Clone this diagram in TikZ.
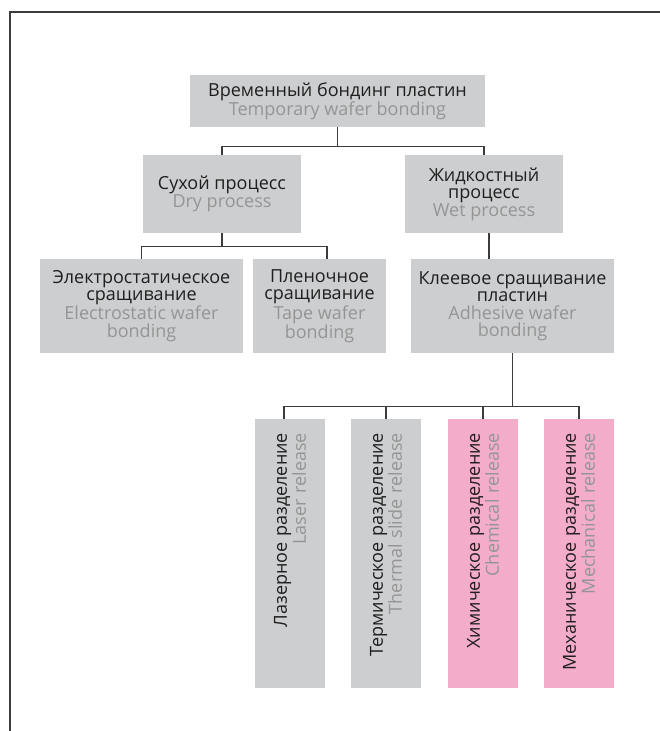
\documentclass[tikz,border=0pt]{standalone}
\usepackage{fontspec}
\setmainfont{Open Sans}
\definecolor{boxgray}{HTML}{CDCED0}
\definecolor{boxpink}{HTML}{F3ADCB}
\definecolor{engray}{HTML}{959595}
\definecolor{linegray}{HTML}{3C3C3C}
\newcommand\eng[1]{\textcolor{engray}{#1}}
\tikzset{
  item/.style={fill=boxgray, inner sep=0pt, align=center,
    font=\fontsize{18}{17.5}\selectfont, text=black!88},
  release/.style={item, rotate=90, minimum width=269pt, minimum height=70pt,
    text width=241pt, inner xsep=14pt, align=right},
  link/.style={draw=linegray, line width=1.4pt}
}
\begin{document}
\begin{tikzpicture}[x=1pt,y=-1pt]
\useasboundingbox (0,0) rectangle (660,731);
\draw[link] (660,12) -- (10,12) -- (10,731);

% levels
\node[item, minimum width=295pt, minimum height=52pt] (bond) at (337.5,101)
  {Временный бондинг пластин\\\eng{Temporary wafer bonding}};
\node[item, minimum width=158pt, minimum height=78pt] (dry) at (222,194)
  {Сухой процесс\\\eng{Dry process}};
\node[item, minimum width=158pt, minimum height=78pt] (wet) at (484,194)
  {Жидкостный\\процесс\\\eng{Wet process}};
\node[item, minimum width=203pt, minimum height=94pt] (electro) at (141.5,306)
  {Электростатическое\\сращивание\\\eng{Electrostatic wafer}\\\eng{bonding}};
\node[item, minimum width=133pt, minimum height=94pt] (tape) at (319.5,306)
  {Пленочное\\сращивание\\\eng{Tape wafer}\\\eng{bonding}};
\node[item, minimum width=203pt, minimum height=94pt] (adhesive) at (512.5,306)
  {Клеевое сращивание\\пластин\\\eng{Adhesive wafer}\\\eng{bonding}};

\node[release] (laser) at (290,553.5) {Лазерное разделение\\\eng{Laser release}};
\node[release] (thermal) at (386,553.5) {Термическое разделение\\\eng{Thermal slide release}};
\node[release, fill=boxpink] (chemical) at (483,553.5) {Химическое разделение\\\eng{Chemical release}};
\node[release, fill=boxpink] (mechanical) at (579,553.5) {Механическое разделение\\\eng{Mechanical release}};

% connectors
\draw[link] (bond.south) -- ++(0,19) coordinate (split1);
\draw[link] (split1) -| (dry.north);
\draw[link] (split1) -| (wet.north);
\draw[link] (dry.south) -- ++(0,13) coordinate (split2);
\draw[link] (split2) -| (electro.north);
\draw[link] (split2) -| ([xshift=7.5pt]tape.north);
\draw[link] ([xshift=5pt]wet.south) -- ([xshift=5pt]wet.south |- adhesive.north);
\draw[link] (adhesive.south) -- ++(0,53) coordinate (split3);
\draw[link] (split3) -| ([xshift=-6pt]laser.east);
\draw[link] (split3) -| (thermal.east);
\draw[link] (split3) -| (chemical.east);
\draw[link] (split3) -| (mechanical.east);
\end{tikzpicture}
\end{document}
